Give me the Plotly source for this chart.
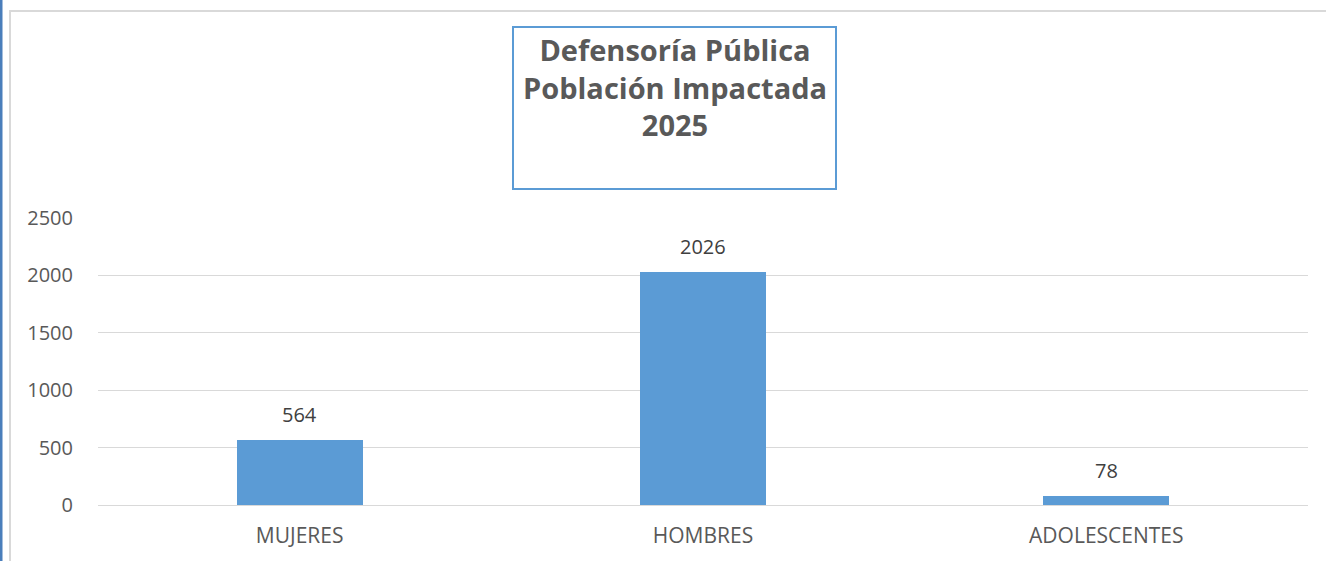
import plotly.graph_objects as go

categories = ["MUJERES", "HOMBRES", "ADOLESCENTES"]
values = [564, 2026, 78]
y_ticks = [0, 500, 1000, 1500, 2000, 2500]
title_lines = ["Defensoría Pública", "Población Impactada", "2025"]

W, H = 1326, 561
L, R, T, B = 98, 18, 218, 56
pw, ph = W - L - R, H - T - B

def px(x):
    return (x - L) / pw

def py(y):
    return (H - B - y) / ph

bar_color = "#5b9bd5"
text_color = "#595959"

fig = go.Figure()
fig.add_trace(go.Bar(x=categories, y=values, marker_color=bar_color,
                     marker_line_width=0, width=0.3125, showlegend=False,
                     hoverinfo="x+y"))

for c, v in zip(categories, values):
    fig.add_annotation(x=c, y=v, text=str(v), showarrow=False, yanchor="bottom",
                       yshift=10, font=dict(family="Open Sans", size=20, color="#404040"))

fig.add_annotation(xref="paper", yref="paper", x=px(674.5), y=py(28), yanchor="top",
                   xanchor="center", text="<br>".join(title_lines), showarrow=False,
                   align="center",
                   font=dict(family="Open Sans", size=29, color=text_color, weight="bold"))

shapes = [
    dict(type="rect", xref="paper", yref="paper", x0=px(513), x1=px(836), y0=py(27), y1=py(189),
         line=dict(color=bar_color, width=2), fillcolor="rgba(0,0,0,0)"),
    dict(type="rect", xref="paper", yref="paper", x0=px(10), x1=px(1340), y0=py(11), y1=py(580),
         line=dict(color="#d9d9d9", width=2), fillcolor="rgba(0,0,0,0)"),
    dict(type="rect", xref="paper", yref="paper", x0=px(0), x1=px(2.5), y0=py(0), y1=py(561),
         line=dict(width=0), fillcolor="#4a7ebb"),
]

fig.update_layout(
    width=W, height=H, margin=dict(l=L, r=R, t=T, b=B, autoexpand=False),
    paper_bgcolor="white", plot_bgcolor="white", shapes=shapes,
    bargap=0,
    font=dict(family="Open Sans", color=text_color, size=21),
)
fig.update_xaxes(showgrid=False, showline=False, ticks="", tickfont=dict(size=21, color=text_color),
                 ticklabelstandoff=16)
fig.update_yaxes(range=[0, 2500], tickvals=y_ticks, showgrid=True, gridcolor="#d9d9d9",
                 gridwidth=1, zeroline=True, zerolinecolor="#d9d9d9", zerolinewidth=1,
                 showline=False, ticks="", tickfont=dict(size=20, color=text_color),
                 ticklabelstandoff=24)

fig.write_html("out.html", post_script="document.body.style.margin='0';",
               config={"displayModeBar": False})
